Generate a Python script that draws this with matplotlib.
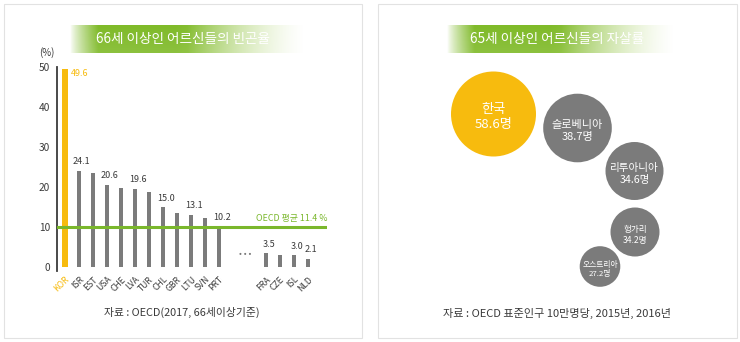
import numpy as np
import matplotlib
matplotlib.use('Agg')
import matplotlib.pyplot as plt
from matplotlib.patches import Rectangle, Circle

plt.rcParams['font.family'] = ['Noto Sans CJK KR', 'DejaVu Sans']

# ---------------- data ----------------
countries = ['KOR', 'ISR', 'EST', 'USA', 'CHE', 'LVA', 'TUR', 'CHL', 'GBR',
             'LTU', 'SVN', 'PRT', 'FRA', 'CZE', 'ISL', 'NLD']
poverty = [49.6, 24.1, 23.5, 20.6, 19.7, 19.6, 18.8, 15.0, 13.4,
           13.1, 12.2, 10.2, 3.5, 2.9, 3.0, 2.1]
labeled = ['KOR', 'ISR', 'USA', 'LVA', 'CHL', 'LTU', 'PRT', 'FRA', 'ISL', 'NLD']
oecd_line = 10.0
oecd_label = 'OECD 평균 11.4 %'
y_ticks = [0, 10, 20, 30, 40, 50]

bubble_names = ['한국', '슬로베니아', '리투아니아', '헝가리', '오스트리아']
suicide = [58.6, 38.7, 34.6, 34.2, 27.2]

title_left = '66세 이상인 어르신들의 빈곤율'
title_right = '65세 이상인 어르신들의 자살률'
source_left = '자료 : OECD(2017, 66세이상기준)'
source_right = '자료 : OECD 표준인구 10만명당, 2015년, 2016년'

# ---------------- layout / style ----------------
W, H = 740, 342
x_pos = list(range(12)) + [14.35, 15.35, 16.35, 17.35]
gap_pos = 12.9
YELLOW = '#f7bb0e'
GRAY = '#7b7b7b'
GREEN = '#7ab72c'
TXT = '#3a3a3a'

bub_center = [(493.5, 114), (577.5, 128), (634.5, 171), (635, 232), (600, 266.5)]
bub_radius = [42.5, 34.3, 29.0, 24.5, 20.3]
bub_fs = [9.5, 8.0, 7.6, 6.2, 5.6]

fig = plt.figure(figsize=(W / 100, H / 100), dpi=100)
fig.patch.set_facecolor('white')

bg = fig.add_axes([0, 0, 1, 1], zorder=0)
bg.set_xlim(0, W)
bg.set_ylim(H, 0)
bg.axis('off')

# panel frames
for x0, x1 in [(3.5, 362), (378, 736.5)]:
    bg.add_patch(Rectangle((x0, 3.5), x1 - x0, 334.5, fill=False,
                           edgecolor='#e2e2e2', lw=0.8))


def banner(x0, x1, y0, y1, text):
    n = 400
    t = np.linspace(0, 1, n)
    alpha = np.ones(n)
    left = t < 0.12
    alpha[left] = (t[left] / 0.12) ** 0.8
    right = t > 0.5
    alpha[right] = np.clip(1 - (t[right] - 0.5) / 0.5, 0, 1) ** 1.3
    base = np.array([0.50, 0.73, 0.16])
    light = np.array([0.70, 0.84, 0.45])
    mix = np.clip((t - 0.45) / 0.55, 0, 1)[:, None]
    cols = base * (1 - mix) + light * mix
    m = 30
    v = np.linspace(0, 1, m)[:, None, None]
    img = np.zeros((m, n, 4))
    img[..., :3] = cols[None, :, :] * (1 - 0.10 * v) + 0.10 * v
    img[..., 3] = alpha[None, :]
    bg.imshow(img, extent=(x0, x1, y1, y0), aspect='auto', interpolation='bilinear', zorder=1)
    bg.text((x0 + x1) / 2 - 4, (y0 + y1) / 2 + 0.5, text, color='white', fontsize=9.8,
            ha='center', va='center', zorder=2)


banner(70, 305, 25, 53, title_left)
banner(447, 675, 25, 53, title_right)

bg.set_xlim(0, W)
bg.set_ylim(H, 0)

# sources
bg.text(182, 312, source_left, fontsize=7.8, color=TXT, ha='center', va='center')
bg.text(557, 313, source_right, fontsize=8.0, color=TXT, ha='center', va='center')

# y unit
bg.text(47, 53, '(%)', fontsize=7, color=TXT, ha='center', va='center')

# bubbles
for i, (name, val) in enumerate(zip(bubble_names, suicide)):
    cx, cy = bub_center[i]
    r = bub_radius[i]
    col = YELLOW if i == 0 else GRAY
    bg.add_patch(Circle((cx, cy), r, facecolor=col, edgecolor='none', zorder=3))
    bg.text(cx, cy + 3, f'{name}\n{val:.1f}명', color='white', fontsize=bub_fs[i],
            ha='center', va='center', linespacing=1.25, zorder=4)

# ---------------- bar chart ----------------
ax_left, ax_right = 57, 327
y_top_px, y_bot_px = 67, 270.6
ymin, ymax = -0.9, 50.0
ax = fig.add_axes([ax_left / W, 1 - y_bot_px / H, (ax_right - ax_left) / W,
                   (y_bot_px - y_top_px) / H], zorder=2)
ax.patch.set_alpha(0)
ax.set_xlim(-0.571, 18.71)
ax.set_ylim(ymin, ymax)

colors = [YELLOW if c == 'KOR' else GRAY for c in countries]
widths = [0.36 if c == 'KOR' else 0.29 for c in countries]
ax.bar(x_pos, poverty, width=widths, color=colors, zorder=2)

ax.axhline(oecd_line, color=GREEN, lw=2.2, zorder=3)
ax.annotate(oecd_label, xy=(1, oecd_line), xycoords=('axes fraction', 'data'),
            xytext=(0, 3), textcoords='offset points', ha='right', va='bottom',
            fontsize=6.4, color=GREEN)

for c, x, v in zip(countries, x_pos, poverty):
    if c not in labeled:
        continue
    if c == 'KOR':
        ax.annotate(f'{v:.1f}', xy=(x, v), xytext=(4, 0), textcoords='offset points',
                    ha='left', va='top', fontsize=6.5, color=YELLOW)
    else:
        ax.annotate(f'{v:.1f}', xy=(x, v), xytext=(2, 3), textcoords='offset points',
                    ha='center', va='bottom', fontsize=6.5, color=TXT)

ax.text(gap_pos, 3.4, '• • •', ha='center', va='center', fontsize=6, color='#777777')

for s in ['top', 'right', 'bottom']:
    ax.spines[s].set_visible(False)
ax.spines['left'].set_color('#3a3a3a')
ax.spines['left'].set_linewidth(1.3)

ax.set_yticks(y_ticks)
ax.set_yticklabels([str(t) for t in y_ticks])
ax.tick_params(axis='y', length=0, pad=5, labelsize=7.3, labelcolor=TXT)
ax.set_xticks(x_pos)
ax.set_xticklabels(countries, rotation=45, ha='right', rotation_mode='anchor')
ax.tick_params(axis='x', length=0, pad=3, labelsize=6.2, labelcolor=TXT)
for lbl in ax.get_xticklabels():
    if lbl.get_text() == 'KOR':
        lbl.set_color(YELLOW)

fig.savefig('out.png', dpi=100, facecolor='white')
